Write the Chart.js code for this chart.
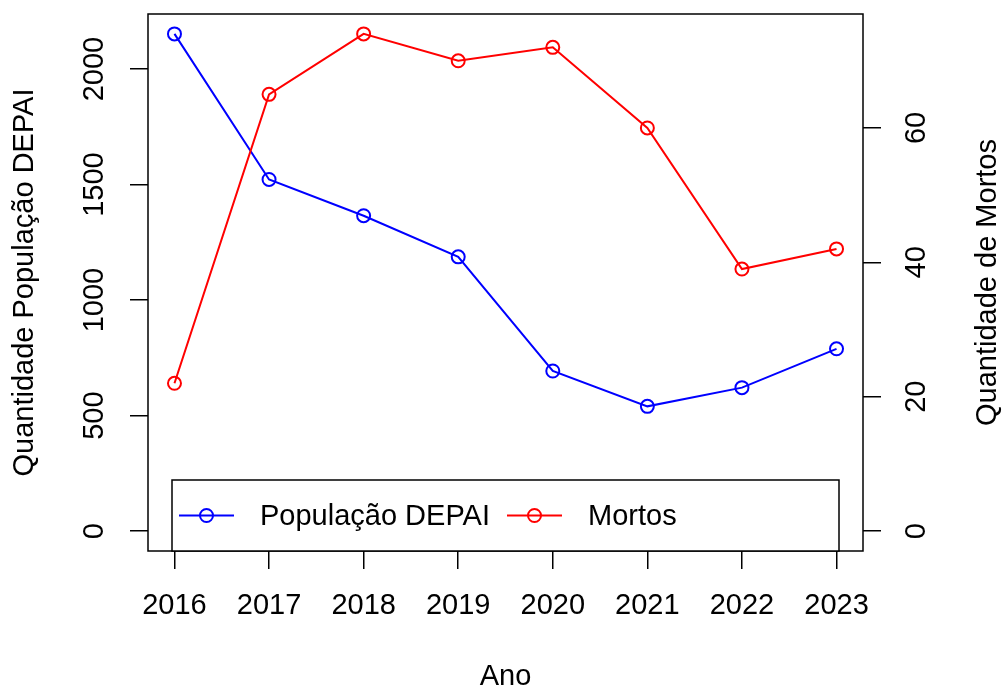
<!DOCTYPE html>
<html lang="pt-BR">
<head>
<meta charset="utf-8">
<title>População DEPAI e Mortos</title>
<script src="https://cdn.jsdelivr.net/npm/chart.js@4.4.1/dist/chart.umd.min.js"></script>
<style>
    html, body { margin: 0; padding: 0; background: #fff; }
    #grafico { display: block; }
</style>
</head>
<body>
<canvas id="grafico" width="1003" height="688"></canvas>
<script>
const anos = [2016, 2017, 2018, 2019, 2020, 2021, 2022, 2023];
const populacao = [2152, 1522, 1365, 1187, 693, 540, 621, 789];
const mortos = [22, 65, 74, 70, 72, 60, 39, 42];
const ticksPopulacao = [0, 500, 1000, 1500, 2000];
const ticksMortos = [0, 20, 40, 60];

const FAMILIA = "'Liberation Sans', Arial, Helvetica, sans-serif";
const FONTE = { family: FAMILIA, size: 29 };
const AZUL = "#0000ff";
const VERMELHO = "#ff0000";

// faixa com 4% de folga em cada lado, igual ao padrão do R
function faixa(min, max) {
    const m = (max - min) * 0.04;
    return { min: min - m, max: max + m };
}
const faixaX = faixa(anos[0], anos[anos.length - 1]);
const faixaPop = faixa(0, Math.max(...populacao));
const faixaMortos = faixa(0, Math.max(...mortos));

function fixarTicks(valores) {
    return (escala) => { escala.ticks = valores.map((v) => ({ value: v })); };
}

// tamanho fixo do eixo, sem a folga extra que o Chart.js reserva para os rótulos
function tamanhoFixo(prop, valor) {
    return (e) => {
        e[prop] = valor;
        e.paddingTop = 0; e.paddingBottom = 0;
        e.paddingLeft = 0; e.paddingRight = 0;
    };
}

function pontos(valores) {
    return anos.map((a, i) => ({ x: a, y: valores[i] }));
}

function serie(label, valores, cor, eixo, ordem) {
    return {
        label, data: pontos(valores), yAxisID: eixo, order: ordem,
        borderColor: cor, borderWidth: 2, tension: 0, fill: false,
        pointRadius: 6.5, pointBorderWidth: 2, pointBorderColor: cor,
        pointBackgroundColor: "rgba(0,0,0,0)",
    };
}

const marcas = { display: true, drawOnChartArea: false, drawTicks: true, tickLength: 18, color: "#000", lineWidth: 1.5 };

// caixa do gráfico, legenda com moldura e título do eixo direito
const moldura = {
    id: "moldura",
    afterDraw(chart) {
        const { ctx, chartArea: a } = chart;
        ctx.save();
        ctx.strokeStyle = "#000";
        ctx.lineWidth = 1.5;
        ctx.strokeRect(a.left, a.top, a.right - a.left, a.bottom - a.top);

        const larg = 667, alt = 71;
        const L = (a.left + a.right) / 2 - larg / 2;
        const T = a.bottom - alt;
        ctx.fillStyle = "#fff";
        ctx.fillRect(L, T, larg, alt);
        ctx.strokeRect(L, T, larg, alt);

        const yMeio = T + alt / 2;
        ctx.font = `29px ${FAMILIA}`;
        ctx.textAlign = "left";
        ctx.textBaseline = "middle";
        chart.data.datasets.forEach((ds, i) => {
            const x0 = L + 7 + i * 328;
            ctx.strokeStyle = ds.borderColor;
            ctx.lineWidth = 2;
            ctx.beginPath();
            ctx.moveTo(x0, yMeio);
            ctx.lineTo(x0 + 55, yMeio);
            ctx.stroke();
            ctx.beginPath();
            ctx.arc(x0 + 27.5, yMeio, 6.5, 0, Math.PI * 2);
            ctx.stroke();
            ctx.fillStyle = "#000";
            ctx.fillText(ds.label, x0 + 81, yMeio + 1);
        });

        ctx.translate(988, (a.top + a.bottom) / 2);
        ctx.rotate(-Math.PI / 2);
        ctx.textAlign = "center";
        ctx.fillText("Quantidade de Mortos", 0, 0);
        ctx.restore();
    },
};

new Chart(document.getElementById("grafico"), {
    type: "line",
    data: {
        datasets: [
            serie("População DEPAI", populacao, AZUL, "yPop", 1),
            serie("Mortos", mortos, VERMELHO, "yMortos", 0),
        ],
    },
    options: {
        responsive: false,
        devicePixelRatio: 1,
        animation: false,
        events: [],
        layout: { padding: { top: 14, left: 0, right: 0, bottom: 0 } },
        plugins: { legend: { display: false }, tooltip: { enabled: false } },
        scales: {
            x: {
                type: "linear", position: "bottom",
                min: faixaX.min, max: faixaX.max,
                afterBuildTicks: fixarTicks(anos),
                afterFit: tamanhoFixo("height", 137),
                grid: marcas,
                border: { display: false },
                ticks: { font: FONTE, color: "#000", padding: 20, autoSkip: false, maxRotation: 0, callback: (v) => String(v) },
                title: { display: true, text: "Ano", color: "#000", font: { ...FONTE, lineHeight: 0.75 }, padding: 0 },
            },
            yPop: {
                type: "linear", position: "left",
                min: faixaPop.min, max: faixaPop.max,
                afterBuildTicks: fixarTicks(ticksPopulacao),
                afterFit: tamanhoFixo("width", 148),
                grid: marcas,
                border: { display: false },
                ticks: { font: FONTE, color: "#000", padding: 3, autoSkip: false, minRotation: 90, maxRotation: 90, crossAlign: "center", callback: (v) => String(v) },
                title: { display: true, text: "Quantidade População DEPAI", color: "#000", font: FONTE, padding: { top: 8, bottom: 0 } },
            },
            yMortos: {
                type: "linear", position: "right",
                min: faixaMortos.min, max: faixaMortos.max,
                afterBuildTicks: fixarTicks(ticksMortos),
                afterFit: tamanhoFixo("width", 140),
                grid: marcas,
                border: { display: false },
                ticks: { font: FONTE, color: "#000", padding: 20, autoSkip: false, minRotation: 90, maxRotation: 90, crossAlign: "center", callback: (v) => String(v) },
            },
        },
    },
    plugins: [moldura],
});
</script>
</body>
</html>
